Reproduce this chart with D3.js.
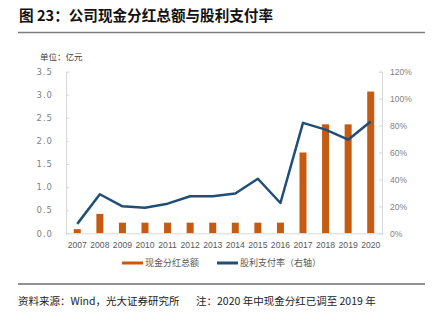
<!DOCTYPE html>
<html><head><meta charset="utf-8">
<script src="https://cdn.jsdelivr.net/npm/d3@7"></script>
<style>
html,body{margin:0;padding:0;background:#fff;}
svg{display:block;}
</style></head>
<body>
<svg id="chart" width="436" height="322"></svg>
<script>
const years = ["2007","2008","2009","2010","2011","2012","2013","2014","2015","2016","2017","2018","2019","2020"];
const dividends = [0.09,0.42,0.23,0.23,0.23,0.23,0.23,0.23,0.23,0.23,1.75,2.36,2.36,3.07];
const payoutRatio = [0.07,0.29,0.20,0.19,0.22,0.275,0.275,0.295,0.405,0.225,0.82,0.77,0.695,0.83];
const leftTicks = [0,0.5,1.0,1.5,2.0,2.5,3.0,3.5];
const rightTicks = [0,0.2,0.4,0.6,0.8,1.0,1.2];
const titleText = "图 23：公司现金分红总额与股利支付率";
const unitText = "单位：亿元";
const legendLabels = ["现金分红总额","股利支付率（右轴）"];
const sourceText = "资料来源：Wind，光大证券研究所";
const noteText = "注：2020 年中现金分红已调至 2019 年";

const CJK = "'Noto Sans CJK SC','Noto Sans',sans-serif";
const ORANGE = "#c55a11", BLUE = "#1f4e79", AXIS = "#d9d9d9", TICKTXT = "#7f7f7f";
const svg = d3.select("#chart");
svg.append("rect").attr("width",436).attr("height",322).attr("fill","#fff");

// title
svg.append("text").attr("x",19).attr("y",21).attr("font-family",CJK).attr("font-size",14.6)
  .attr("font-weight","bold").attr("fill","#111").text(titleText);
svg.append("line").attr("x1",18).attr("x2",425).attr("y1",32.5).attr("y2",32.5)
  .attr("stroke","#7f7f7f").attr("stroke-width",1.5);

svg.append("text").attr("x",40).attr("y",60).attr("font-family",CJK).attr("font-size",8.5)
  .attr("fill","#404040").text(unitText);

const pLeft = 66, pRight = 382, pTop = 71.7, pBottom = 233.3;
const x = d3.scaleBand().domain(years).range([pLeft,pRight]).paddingInner(0.69).paddingOuter(0.345);
const yL = d3.scaleLinear().domain([0,3.5]).range([pBottom,pTop]);
const yR = d3.scaleLinear().domain([0,1.2]).range([pBottom,pTop]);

// left axis
const gL = svg.append("g").attr("transform",`translate(${pLeft},0)`)
  .call(d3.axisLeft(yL).tickValues(leftTicks).tickFormat(d3.format(".1f")).tickSize(-3).tickPadding(13));
gL.select(".domain").attr("stroke",AXIS);
gL.selectAll(".tick line").attr("stroke",AXIS);
gL.selectAll(".tick text").attr("font-family","'DejaVu Sans',sans-serif").attr("font-size",8.5)
  .attr("fill",TICKTXT).attr("letter-spacing","1px");

// right axis
const gR = svg.append("g").attr("transform",`translate(${pRight},0)`)
  .call(d3.axisRight(yR).tickValues(rightTicks).tickFormat(d3.format(".0%")).tickSize(-3).tickPadding(8));
gR.select(".domain").attr("stroke",AXIS);
gR.selectAll(".tick line").attr("stroke",AXIS);
gR.selectAll(".tick text").attr("font-family","'Liberation Sans',sans-serif").attr("font-size",8.5)
  .attr("fill",TICKTXT);

// bars
svg.append("g").selectAll("rect").data(years).join("rect")
  .attr("x",d=>x(d)).attr("width",x.bandwidth())
  .attr("y",(d,i)=>yL(dividends[i])).attr("height",(d,i)=>pBottom-yL(dividends[i]))
  .attr("fill",ORANGE);

// bottom axis
const gB = svg.append("g").attr("transform",`translate(0,${pBottom})`)
  .call(d3.axisBottom(x).tickSize(0).tickPadding(9));
gB.select(".domain").attr("stroke",AXIS);
gB.selectAll(".tick text").attr("font-family","'Liberation Sans',sans-serif").attr("font-size",8.6)
  .attr("fill","#595959");

// line
const line = d3.line().x((d,i)=>x(years[i])+x.bandwidth()/2).y(d=>yR(d));
svg.append("path").datum(payoutRatio).attr("d",line).attr("fill","none")
  .attr("stroke",BLUE).attr("stroke-width",2.5).attr("stroke-linejoin","round");

// legend
const lg = svg.append("g").attr("font-family",CJK).attr("font-size",9).attr("fill","#595959");
[[122,ORANGE,legendLabels[0]],[217,BLUE,legendLabels[1]]].forEach(([lx,c,t])=>{
  lg.append("line").attr("x1",lx).attr("x2",lx+21).attr("y1",263).attr("y2",263)
    .attr("stroke",c).attr("stroke-width",3);
  lg.append("text").attr("x",lx+23).attr("y",266.3).text(t);
});

// footer
svg.append("line").attr("x1",18).attr("x2",425).attr("y1",284).attr("y2",284)
  .attr("stroke","#222").attr("stroke-width",1);
svg.append("text").attr("x",18).attr("y",305).attr("font-family",CJK).attr("font-size",10.5)
  .attr("fill","#222").text(sourceText);
svg.append("text").attr("x",196).attr("y",305).attr("font-family",CJK).attr("font-size",10.5)
  .attr("fill","#222").text(noteText);
</script>
</body></html>
